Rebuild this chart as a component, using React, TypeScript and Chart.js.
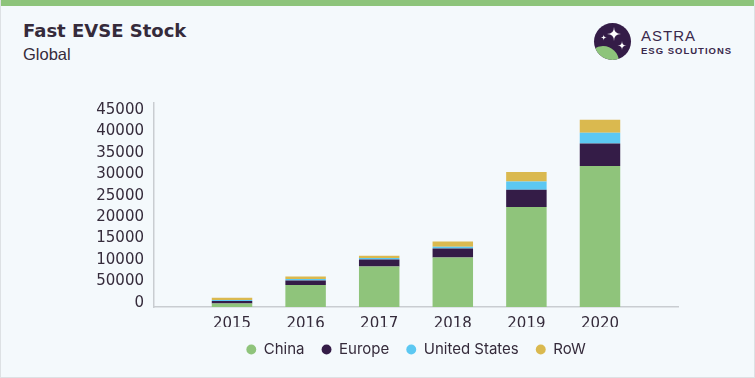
import React, { useEffect, useRef } from "react";
import { Chart, registerables } from "chart.js";

Chart.register(...registerables);

const years = [2015, 2016, 2017, 2018, 2019, 2020];
const china = [840, 5120, 9450, 11550, 23280, 32820];
const europe = [560, 1070, 1630, 2100, 4030, 5260];
const unitedStates = [230, 330, 330, 400, 1930, 2490];
const restOfWorld = [540, 610, 540, 1230, 2190, 3030];
const seriesNames = ["China", "Europe", "United States", "RoW"];
const seriesColors = ["#8fc47b", "#341c47", "#5cc8f2", "#dab94f"];
const yTickValues = [0, 5000, 10000, 15000, 20000, 25000, 30000, 35000, 40000, 45000];
const yTickLabels = ["0", "50000", "10000", "15000", "20000", "25000", "30000", "35000", "40000", "45000"];

const TEXT = "#352b3b";

// centre the legend under the plot area rather than the whole canvas
const legendCenterPlugin = {
  id: "legendCenter",
  afterLayout(chart: any) {
    const lg = chart.legend;
    if (!lg) return;
    const target = (chart.chartArea.left + chart.chartArea.right) / 2;
    const current = (lg.left + lg.right) / 2;
    const dx = target - current;
    const dy = -2;
    lg.left += dx;
    lg.right += dx;
    lg.top += dy;
    lg.bottom += dy;
    if (lg.legendHitBoxes)
      lg.legendHitBoxes.forEach((b: any) => {
        b.left += dx;
        b.top += dy;
      });
  },
};

function ChartCanvas() {
  const ref = useRef<HTMLCanvasElement | null>(null);
  useEffect(() => {
    if (!ref.current) return;
    const all = [china, europe, unitedStates, restOfWorld];
    const chart = new Chart(ref.current, {
      type: "bar",
      data: {
        datasets: all.map((vals, i) => ({
          label: seriesNames[i],
          data: years.map((y, j) => ({ x: y, y: vals[j] })),
          backgroundColor: seriesColors[i],
          borderWidth: 0,
          barPercentage: 1,
          categoryPercentage: 0.55,
        })),
      },
      plugins: [legendCenterPlugin],
      options: {
        animation: false,
        responsive: false,
        maintainAspectRatio: false,
        layout: { padding: { top: 103, left: 93, right: 78, bottom: 9 } },
        plugins: {
          tooltip: { enabled: false },
          legend: {
            position: "bottom",
            labels: {
              usePointStyle: true,
              pointStyle: "circle",
              boxWidth: 10,
              boxHeight: 7,
              padding: 17,
              color: TEXT,
              font: { family: "Inter", size: 15 },
            },
          },
        },
        scales: {
          x: {
            type: "linear",
            stacked: true,
            offset: false,
            min: 2013.94,
            max: 2021.06,
            grid: { display: false, drawTicks: false },
            border: { display: true, color: "#c9cdd1", width: 1.5 },
            afterBuildTicks: (scale: any) => {
              scale.ticks = years.map((v) => ({ value: v }));
            },
            afterFit: (scale: any) => {
              scale.height = 20;
            },
            ticks: {
              padding: 8,
              color: TEXT,
              font: { family: "DejaVu Sans", size: 15 },
              callback: (v: any) => String(v),
            },
          },
          y: {
            stacked: true,
            min: 0,
            max: 47500,
            grid: { display: false, drawTicks: false },
            border: { display: true, color: "#c9cdd1", width: 1.5 },
            afterBuildTicks: (scale: any) => {
              scale.ticks = yTickValues.map((v) => ({ value: v }));
            },
            afterFit: (scale: any) => {
              scale.width = 60;
            },
            ticks: {
              padding: 10,
              labelOffset: -4,
              color: TEXT,
              font: { family: "DejaVu Sans", size: 15 },
              callback: (v: any) => {
                const idx = yTickValues.indexOf(Number(v));
                return idx >= 0 ? yTickLabels[idx] : "";
              },
            },
          },
        },
      } as any,
    });
    return () => chart.destroy();
  }, []);
  return (
    <canvas
      ref={ref}
      width={755}
      height={378}
      style={{ position: "absolute", left: 0, top: 0, width: 755, height: 378 }}
    />
  );
}

function star(cx: number, cy: number, r: number) {
  return `M${cx},${cy - r} Q${cx},${cy} ${cx + r},${cy} Q${cx},${cy} ${cx},${cy + r} Q${cx},${cy} ${cx - r},${cy} Q${cx},${cy} ${cx},${cy - r} Z`;
}

export default function App() {
  return (
    <div
      style={{
        position: "fixed",
        left: 0,
        top: 0,
        width: 755,
        height: 378,
        background: "#f4f9fc",
        boxSizing: "border-box",
        borderLeft: "1px solid #dde1e4",
        borderRight: "1px solid #dde1e4",
        borderBottom: "1px solid #dde1e4",
        overflow: "hidden",
      }}
    >
      <div style={{ position: "absolute", left: 0, top: 0, width: 755, height: 6, background: "#8dc47b" }} />
      <div
        style={{
          position: "absolute",
          left: 22,
          top: 22,
          fontFamily: "DejaVu Sans",
          fontWeight: 700,
          fontSize: 18,
          lineHeight: "18px",
          color: TEXT,
          whiteSpace: "nowrap",
        }}
      >
        Fast EVSE Stock
      </div>
      <div
        style={{
          position: "absolute",
          left: 22,
          top: 46,
          fontFamily: "Liberation Sans",
          fontSize: 16.5,
          lineHeight: "16.5px",
          color: TEXT,
          whiteSpace: "nowrap",
        }}
      >
        Global
      </div>
      <svg
        width={755}
        height={80}
        style={{ position: "absolute", left: 0, top: 0 }}
      >
        <defs>
          <clipPath id="logoClip">
            <circle cx={611.5} cy={41.5} r={18.5} />
          </clipPath>
        </defs>
        <circle cx={611.5} cy={41.5} r={18.5} fill="#341c47" />
        <g clipPath="url(#logoClip)">
          <ellipse cx={602} cy={62} rx={16} ry={16} fill="#8dc47b" />
        </g>
        <path d={star(613, 34, 7)} fill="#ffffff" />
        <path d={star(602.7, 37.5, 3)} fill="#ffffff" />
        <path d={star(621, 45.5, 4.5)} fill="#ffffff" />
      </svg>
      <div
        style={{
          position: "absolute",
          left: 640,
          top: 28,
          fontFamily: "Liberation Sans",
          fontSize: 15,
          lineHeight: "15px",
          letterSpacing: 1,
          color: "#3a2a4d",
          whiteSpace: "nowrap",
        }}
      >
        ASTRA
      </div>
      <div
        style={{
          position: "absolute",
          left: 640,
          top: 46,
          fontFamily: "Liberation Sans",
          fontWeight: 700,
          fontSize: 9.5,
          lineHeight: "9.5px",
          letterSpacing: 1,
          color: "#3a2a4d",
          whiteSpace: "nowrap",
        }}
      >
        ESG SOLUTIONS
      </div>
      <ChartCanvas />
    </div>
  );
}
